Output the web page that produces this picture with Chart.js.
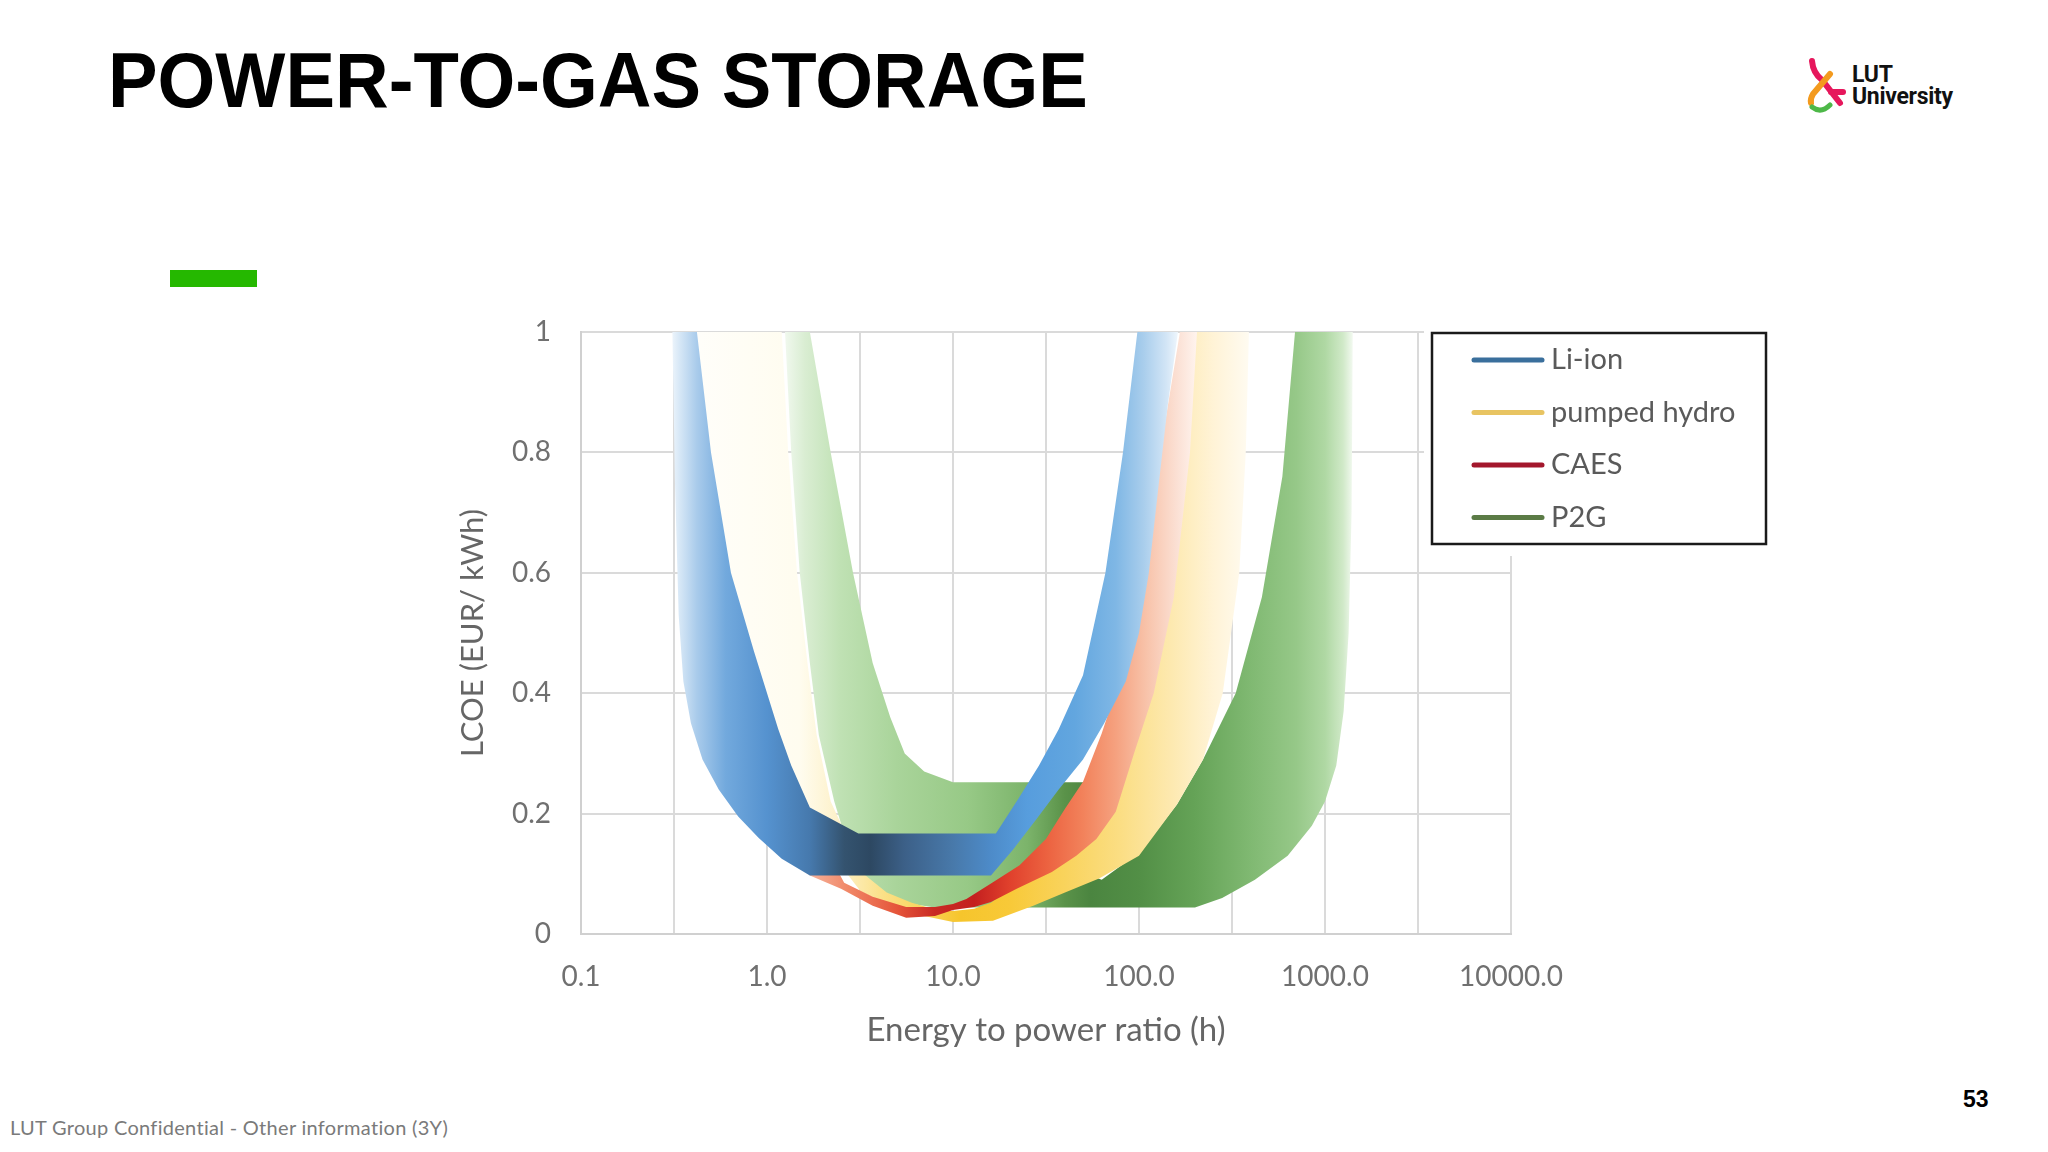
<!DOCTYPE html>
<html>
<head>
<meta charset="utf-8">
<script src="https://cdn.jsdelivr.net/npm/chart.js@4.4.1/dist/chart.umd.min.js"></script>
<style>
  html, body { margin: 0; padding: 0; background: #fff; }
  body { width: 2048px; height: 1152px; position: relative; overflow: hidden; font-family: Lato, sans-serif; }
  #title { position: absolute; left: 108px; top: 42px; font: bold 77px/77px "Liberation Sans", Arial, sans-serif;
           color: #000; transform: scaleX(0.965); transform-origin: left top; white-space: nowrap; }
  #accent { position: absolute; left: 170px; top: 270px; width: 87px; height: 17px; background: #25b800; }
  #logoMark { position: absolute; left: 1800px; top: 56px; }
  #logoText { position: absolute; left: 1852px; top: 64px; font: bold 23px/22px Roboto, sans-serif; color: #111; letter-spacing: -0.3px; }
  #chartBox { position: absolute; left: 440px; top: 300px; width: 1400px; height: 760px; }
  #footer { position: absolute; left: 10px; top: 1117px; font: 20px/20px Lato, sans-serif; color: #7a7a7a;
            letter-spacing: 0.3px; white-space: nowrap; }
  #page { position: absolute; left: 1963px; top: 1088px; font: bold 23px/23px "Liberation Sans", Arial, sans-serif; color: #000; }
</style>
</head>
<body>
<div id="title">POWER-TO-GAS STORAGE</div>
<div id="accent"></div>
<svg id="logoMark" width="50" height="60" viewBox="0 0 50 60">
  <path d="M12,5 Q13,17 22,24 L40,47" fill="none" stroke="#e6175c" stroke-width="6" stroke-linecap="round"/>
  <path d="M31,36 L43,36" fill="none" stroke="#e6175c" stroke-width="6" stroke-linecap="round"/>
  <path d="M30,18 L13,38 Q10,43 11,47" fill="none" stroke="#f39a1e" stroke-width="6" stroke-linecap="round"/>
  <path d="M12,51 Q21,58 30,49" fill="none" stroke="#4db848" stroke-width="5" stroke-linecap="round"/>
</svg>
<div id="logoText">LUT<br>University</div>
<div id="chartBox"><canvas id="grafico"></canvas></div>
<div id="footer">LUT Group Confidential - Other information (3Y)</div>
<div id="page">53</div>

<script>
// series names, legend order
const seriesNames = ['Li-ion', 'pumped hydro', 'CAES', 'P2G'];

// x axis: gridlines every half decade, labels on decades
const xTickValues = [0.1, 0.316, 1, 3.16, 10, 31.6, 100, 316, 1000, 3162, 10000];
const xTickLabels = ['0.1', '', '1.0', '', '10.0', '', '100.0', '', '1000.0', '', '10000.0'];
const yTickLabels = ['0', '0.2', '0.4', '0.6', '0.8', '1'];

// each band: lower (outer) edge and upper (inner) edge, [hours, EUR/kWh]
const liionLower = [[0.31, 1], [0.32, 0.75], [0.335, 0.53], [0.355, 0.42], [0.39, 0.35], [0.45, 0.29],
  [0.55, 0.24], [0.7, 0.195], [0.9, 0.16], [1.2, 0.125], [1.7, 0.097], [16, 0.097], [21, 0.14], [28, 0.19],
  [37, 0.24], [50, 0.29], [65, 0.35], [85, 0.42], [100, 0.5], [113, 0.6], [128, 0.75], [143, 0.88], [162, 1]];
const liionUpper = [[0.42, 1], [0.5, 0.8], [0.64, 0.6], [0.85, 0.47], [1.15, 0.34], [1.35, 0.28],
  [1.7, 0.21], [3.1, 0.167], [17, 0.167], [22.5, 0.225], [29, 0.28], [37, 0.34], [50, 0.43],
  [66, 0.6], [82, 0.8], [98, 1]];

const hydroLower = [[0.42, 1], [0.5, 0.75], [0.62, 0.55], [0.85, 0.42], [1.2, 0.3], [1.7, 0.2],
  [2.4, 0.12], [3.2, 0.07], [5.6, 0.036], [10, 0.02], [16.4, 0.022], [27, 0.047], [40, 0.069],
  [61, 0.092], [100, 0.13], [160, 0.215], [221, 0.29], [282, 0.4], [346, 0.6], [375, 0.8], [390, 1]];
const hydroUpper = [[1.2, 1], [1.3, 0.8], [1.45, 0.6], [1.65, 0.45], [1.85, 0.33], [2.2, 0.22],
  [2.8, 0.15], [3.3, 0.1], [4.4, 0.069], [6, 0.052], [7.8, 0.042], [10, 0.038], [13, 0.042],
  [16, 0.052], [20, 0.075], [30, 0.103], [42, 0.13], [54, 0.158], [70, 0.203], [88, 0.3],
  [112, 0.4], [145, 0.56], [178, 0.8], [195, 1]];

const caesLower = [[0.36, 1], [0.37, 0.7], [0.4, 0.5], [0.47, 0.37], [0.6, 0.27], [0.85, 0.19],
  [1.2, 0.14], [1.7, 0.097], [2.5, 0.075], [3.7, 0.047], [5.6, 0.027], [8, 0.03], [10, 0.04],
  [13, 0.045], [16, 0.053], [22, 0.075], [34, 0.103], [46, 0.13], [59, 0.158], [75, 0.203],
  [94, 0.3], [120, 0.4], [154, 0.56], [188, 0.8], [205, 1]];
const caesUpper = [[0.4, 1], [0.45, 0.8], [0.56, 0.6], [0.72, 0.47], [0.95, 0.35], [1.2, 0.28],
  [1.5, 0.21], [2, 0.15], [2.6, 0.085], [3.7, 0.062], [5.6, 0.045], [8, 0.045], [10, 0.05],
  [11.8, 0.058], [16.4, 0.086], [22.8, 0.114], [31.6, 0.158], [40, 0.208], [50, 0.253],
  [63, 0.333], [87, 0.464], [106, 0.6], [130, 0.8], [166, 1]];

const p2gLower = [[1.25, 1], [1.35, 0.8], [1.5, 0.6], [1.7, 0.45], [1.9, 0.33], [2.3, 0.22],
  [2.7, 0.15], [3, 0.1], [4, 0.07], [6, 0.05], [8, 0.044], [200, 0.044], [280, 0.06], [420, 0.09],
  [630, 0.13], [850, 0.18], [1000, 0.22], [1150, 0.28], [1260, 0.37], [1340, 0.5], [1390, 0.7], [1410, 1]];
const p2gUpper = [[1.7, 1], [2.2, 0.8], [2.9, 0.6], [3.7, 0.45], [4.6, 0.36], [5.5, 0.3], [7, 0.27],
  [10, 0.252], [50, 0.252], [52, 0.1], [63, 0.09], [102, 0.137], [160, 0.215], [221, 0.29],
  [331, 0.4], [458, 0.56], [590, 0.76], [690, 1]];

// colours (horizontal shading of every band, by x position)
const liionShade = [[0.3, '#f3f8fd'], [0.34, '#d6e7f6'], [0.42, '#a9cbeb'], [0.6, '#72a9dd'], [1, '#5592cf'],
  [1.7, '#4679ad'], [2.6, '#34536f'], [3.6, '#2d4862'], [5.5, '#3c6088'], [10, '#4879aa'], [16, '#4d8bc9'],
  [25, '#579ddd'], [45, '#62a6df'], [75, '#7fb7e5'], [105, '#a8cdec'], [140, '#d2e5f6'], [165, '#f2f8fd']];
const hydroShade = [[0.4, '#fffefa'], [1.5, '#fffcef'], [2.5, '#fdf0c6'], [4, '#fbe28c'], [7, '#f9d35a'],
  [11, '#f6c52c'], [20, '#f8c938'], [40, '#f9d35c'], [80, '#fbde84'], [150, '#fde9b0'], [250, '#fff3d6'], [390, '#fffbf1']];
const caesShade = [[0.4, '#fff2ec'], [1.5, '#f7bca6'], [2.8, '#f08565'], [5, '#e5553a'], [8, '#c92a24'],
  [13, '#c4201f'], [20, '#e0402c'], [32, '#ec6240'], [50, '#f2825b'], [75, '#f5a17f'], [110, '#f8c3aa'],
  [160, '#fbe0d4'], [205, '#fff4ee']];
const p2gShade = [[1.2, '#f4faf2'], [1.6, '#d9edd2'], [2.5, '#bfe1b3'], [5, '#a9d49a'], [12, '#97c986'],
  [25, '#7cb46b'], [40, '#5a9249'], [55, '#4b8540'], [100, '#528f46'], [200, '#65a357'], [400, '#80b972'],
  [700, '#96c888'], [1000, '#afd8a3'], [1250, '#d0e9c8'], [1420, '#f4faf2']];
const legendColors = ['#3a6f9c', '#e8c462', '#a3172c', '#5b7b46'];

const toShape = (lower, upper) => lower.concat(upper.slice().reverse()).map(([x, y]) => ({x, y}));

const shade = (stops) => (c) => {
  const chart = c.chart;
  const xs = chart.scales.x;
  if (!chart.chartArea || !xs) return stops[Math.floor(stops.length / 2)][1];
  const x0 = xs.getPixelForValue(0.1);
  const x1 = xs.getPixelForValue(10000);
  const g = chart.ctx.createLinearGradient(x0, 0, x1, 0);
  stops.forEach(([v, col]) => {
    const f = (xs.getPixelForValue(v) - x0) / (x1 - x0);
    g.addColorStop(Math.min(1, Math.max(0, f)), col);
  });
  return g;
};

const band = (label, lower, upper, stops, order) => ({
  label: label,
  data: toShape(lower, upper),
  showLine: true,
  fill: 'shape',
  backgroundColor: shade(stops),
  borderColor: 'transparent',
  borderWidth: 0,
  pointRadius: 0,
  tension: 0,
  order: order
});

const boxLegend = {
  id: 'boxLegend',
  afterDraw(chart) {
    const ctx = chart.ctx;
    const left = 992, top = 33, w = 334, h = 211;
    ctx.save();
    ctx.fillStyle = '#fff';
    ctx.fillRect(left - 8, top - 4, w + 16, h + 16);
    ctx.strokeStyle = '#1a1a1a';
    ctx.lineWidth = 2.5;
    ctx.strokeRect(left, top, w, h);
    ctx.font = '29px Lato';
    ctx.textBaseline = 'middle';
    seriesNames.forEach((name, i) => {
      const y = top + 27 + i * 52.5;
      ctx.strokeStyle = legendColors[i];
      ctx.lineWidth = 5;
      ctx.lineCap = 'round';
      ctx.beginPath();
      ctx.moveTo(left + 42, y);
      ctx.lineTo(left + 110, y);
      ctx.stroke();
      ctx.fillStyle = '#5a5a5a';
      ctx.fillText(name, left + 119, y);
    });
    ctx.restore();
  }
};

document.addEventListener('DOMContentLoaded', () => {
  Chart.defaults.font.family = 'Lato';
  const ctx = document.getElementById('grafico').getContext('2d');
  new Chart(ctx, {
    type: 'scatter',
    data: {
      datasets: [
        band(seriesNames[0], liionLower, liionUpper, liionShade, 0),
        band(seriesNames[1], hydroLower, hydroUpper, hydroShade, 2),
        band(seriesNames[2], caesLower, caesUpper, caesShade, 1),
        band(seriesNames[3], p2gLower, p2gUpper, p2gShade, 3)
      ]
    },
    options: {
      responsive: true,
      maintainAspectRatio: false,
      animation: false,
      events: [],
      layout: { padding: { top: 32, right: 329, left: 0, bottom: 0 } },
      plugins: { legend: { display: false }, tooltip: { enabled: false } },
      scales: {
        x: {
          type: 'logarithmic',
          min: 0.1,
          max: 10000,
          afterBuildTicks: (s) => { s.ticks = xTickValues.map(v => ({value: v})); },
          afterFit: (s) => { s.height = 126; },
          ticks: {
            autoSkip: false, maxRotation: 0, padding: 26, color: '#707070', font: { size: 28 },
            callback: (v, i) => xTickLabels[i]
          },
          grid: { color: '#dadada', lineWidth: 2, drawTicks: false },
          border: { color: '#d0d0d0', width: 2 },
          title: { display: true, text: 'Energy to power ratio (h)', color: '#666', font: { size: 33 },
                   padding: { top: 0, bottom: 10 } }
        },
        y: {
          min: 0,
          max: 1,
          afterFit: (s) => { s.width = 141; s.paddingTop = 0; s.paddingBottom = 0; },
          ticks: { stepSize: 0.2, padding: 30, color: '#707070', font: { size: 28 },
                   callback: (v, i) => yTickLabels[i] },
          grid: { color: '#dadada', lineWidth: 2, drawTicks: false },
          border: { color: '#d0d0d0', width: 2 },
          title: { display: true, text: 'LCOE (EUR/ kWh)', color: '#666', font: { size: 31 },
                   padding: { top: 14, bottom: 0 } }
        }
      }
    },
    plugins: [boxLegend]
  });
});
</script>
</body>
</html>
